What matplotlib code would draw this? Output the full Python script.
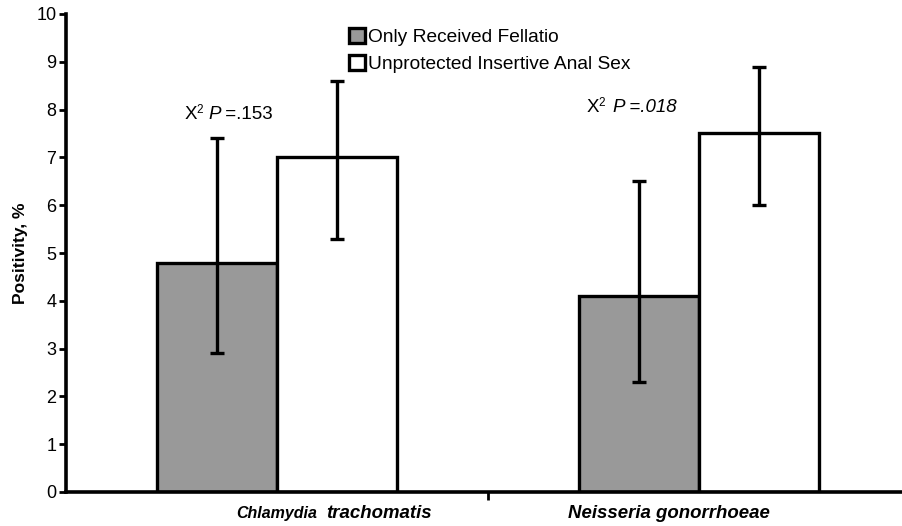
import matplotlib
matplotlib.use("Agg")
import matplotlib.pyplot as plt
import numpy as np
from matplotlib.transforms import offset_copy

categories = ["Chlamydia trachomatis", "Neisseria gonorrhoeae"]
series_names = ["Only Received Fellatio", "Unprotected Insertive Anal Sex"]
fellatio_vals = [4.8, 4.1]
fellatio_low = [2.9, 2.3]
fellatio_high = [7.4, 6.5]
anal_vals = [7.0, 7.5]
anal_low = [5.3, 6.0]
anal_high = [8.6, 8.9]
pvalue_labels = [".153", ".018"]

plt.rcParams['font.family'] = ['Liberation Sans', 'DejaVu Sans']

W, H = 902, 526
fig = plt.figure(figsize=(W / 100, H / 100), dpi=100)
ax_left, ax_right, ax_bottom, ax_top = 66, 910, 492, 14
ax = fig.add_axes([ax_left / W, (H - ax_bottom) / H, (ax_right - ax_left) / W, (ax_bottom - ax_top) / H])

x = np.arange(len(categories))
bw = 0.284
lw = 2.4
ax.bar(x - bw / 2, fellatio_vals, bw, color='#999999', edgecolor='black', linewidth=lw,
       label=series_names[0], zorder=2)
ax.bar(x + bw / 2, anal_vals, bw, color='white', edgecolor='black', linewidth=lw,
       label=series_names[1], zorder=2)

f_err = [np.array(fellatio_vals) - np.array(fellatio_low), np.array(fellatio_high) - np.array(fellatio_vals)]
a_err = [np.array(anal_vals) - np.array(anal_low), np.array(anal_high) - np.array(anal_vals)]
ax.errorbar(x - bw / 2, fellatio_vals, yerr=f_err, fmt='none', ecolor='black', elinewidth=lw,
            capsize=5, capthick=lw, zorder=3)
ax.errorbar(x + bw / 2, anal_vals, yerr=a_err, fmt='none', ecolor='black', elinewidth=lw,
            capsize=5, capthick=lw, zorder=3)

ax.set_xlim(-0.5, 1.5)
ax.set_ylim(0, 10)
ax.set_yticks(range(0, 11))
ax.set_xticks([0.5])
ax.set_xticklabels([''])
for s in ['top', 'right']:
    ax.spines[s].set_visible(False)
ax.spines['left'].set_linewidth(2.6)
ax.spines['bottom'].set_linewidth(2.6)
ax.tick_params(axis='y', direction='out', length=5, width=2, labelsize=13, pad=2)
ax.tick_params(axis='x', direction='out', length=6, width=2)
ax.set_ylabel('Positivity, %', fontsize=12.5, fontweight='bold', labelpad=6)

# category labels
px2x = lambda px: (px - 277) / 422.0
trans = ax.get_xaxis_transform()
ylab = -0.045
ax.text(px2x(317), ylab, 'Chlamydia', transform=trans, ha='right', va='center',
        fontsize=11.5, fontweight='bold', style='italic')
ax.text(px2x(326), ylab, 'trachomatis', transform=trans, ha='left', va='center',
        fontsize=13.4, fontweight='bold', style='italic')
ax.text(px2x(568), ylab, 'Neisseria gonorrhoeae', transform=trans, ha='left', va='center',
        fontsize=13.4, fontweight='bold', style='italic')

# p-value annotations built from pieces
def pieces(xd, yd, parts, fs=13.5):
    fig.canvas.draw()
    r = fig.canvas.get_renderer()
    dx = 0.0
    for txt, italic, sup, gap in parts:
        dx += gap
        size = fs * 0.62 if sup else fs
        dy = fs * 0.42 if sup else 0
        tr = offset_copy(ax.transData, fig=fig, x=dx, y=dy, units='dots')
        t = ax.text(xd, yd, txt, transform=tr, ha='left', va='baseline', fontsize=size,
                    style='italic' if italic else 'normal')
        bb = t.get_window_extent(renderer=r)
        dx += bb.width

pieces(px2x(185), 7.8, [('X', False, False, 0), ('2', False, True, -1), ('P', True, False, 5),
                        (' =' + pvalue_labels[0], False, False, 0)])
pieces(px2x(587), 7.95, [('X', False, False, 0), ('2', False, True, -1), ('P', True, False, 7),
                         (' =' + pvalue_labels[1], True, False, 0)])

leg = fig.legend(loc='upper left', bbox_to_anchor=(349 / W, 1 - 28 / H), frameon=False,
                 fontsize=13.8, handlelength=0.85, handleheight=0.85, handletextpad=0.15,
                 labelspacing=0.45, borderaxespad=0, borderpad=0)
for h in leg.legend_handles:
    h.set_linewidth(2.4)

fig.savefig('out.png', dpi=100)
